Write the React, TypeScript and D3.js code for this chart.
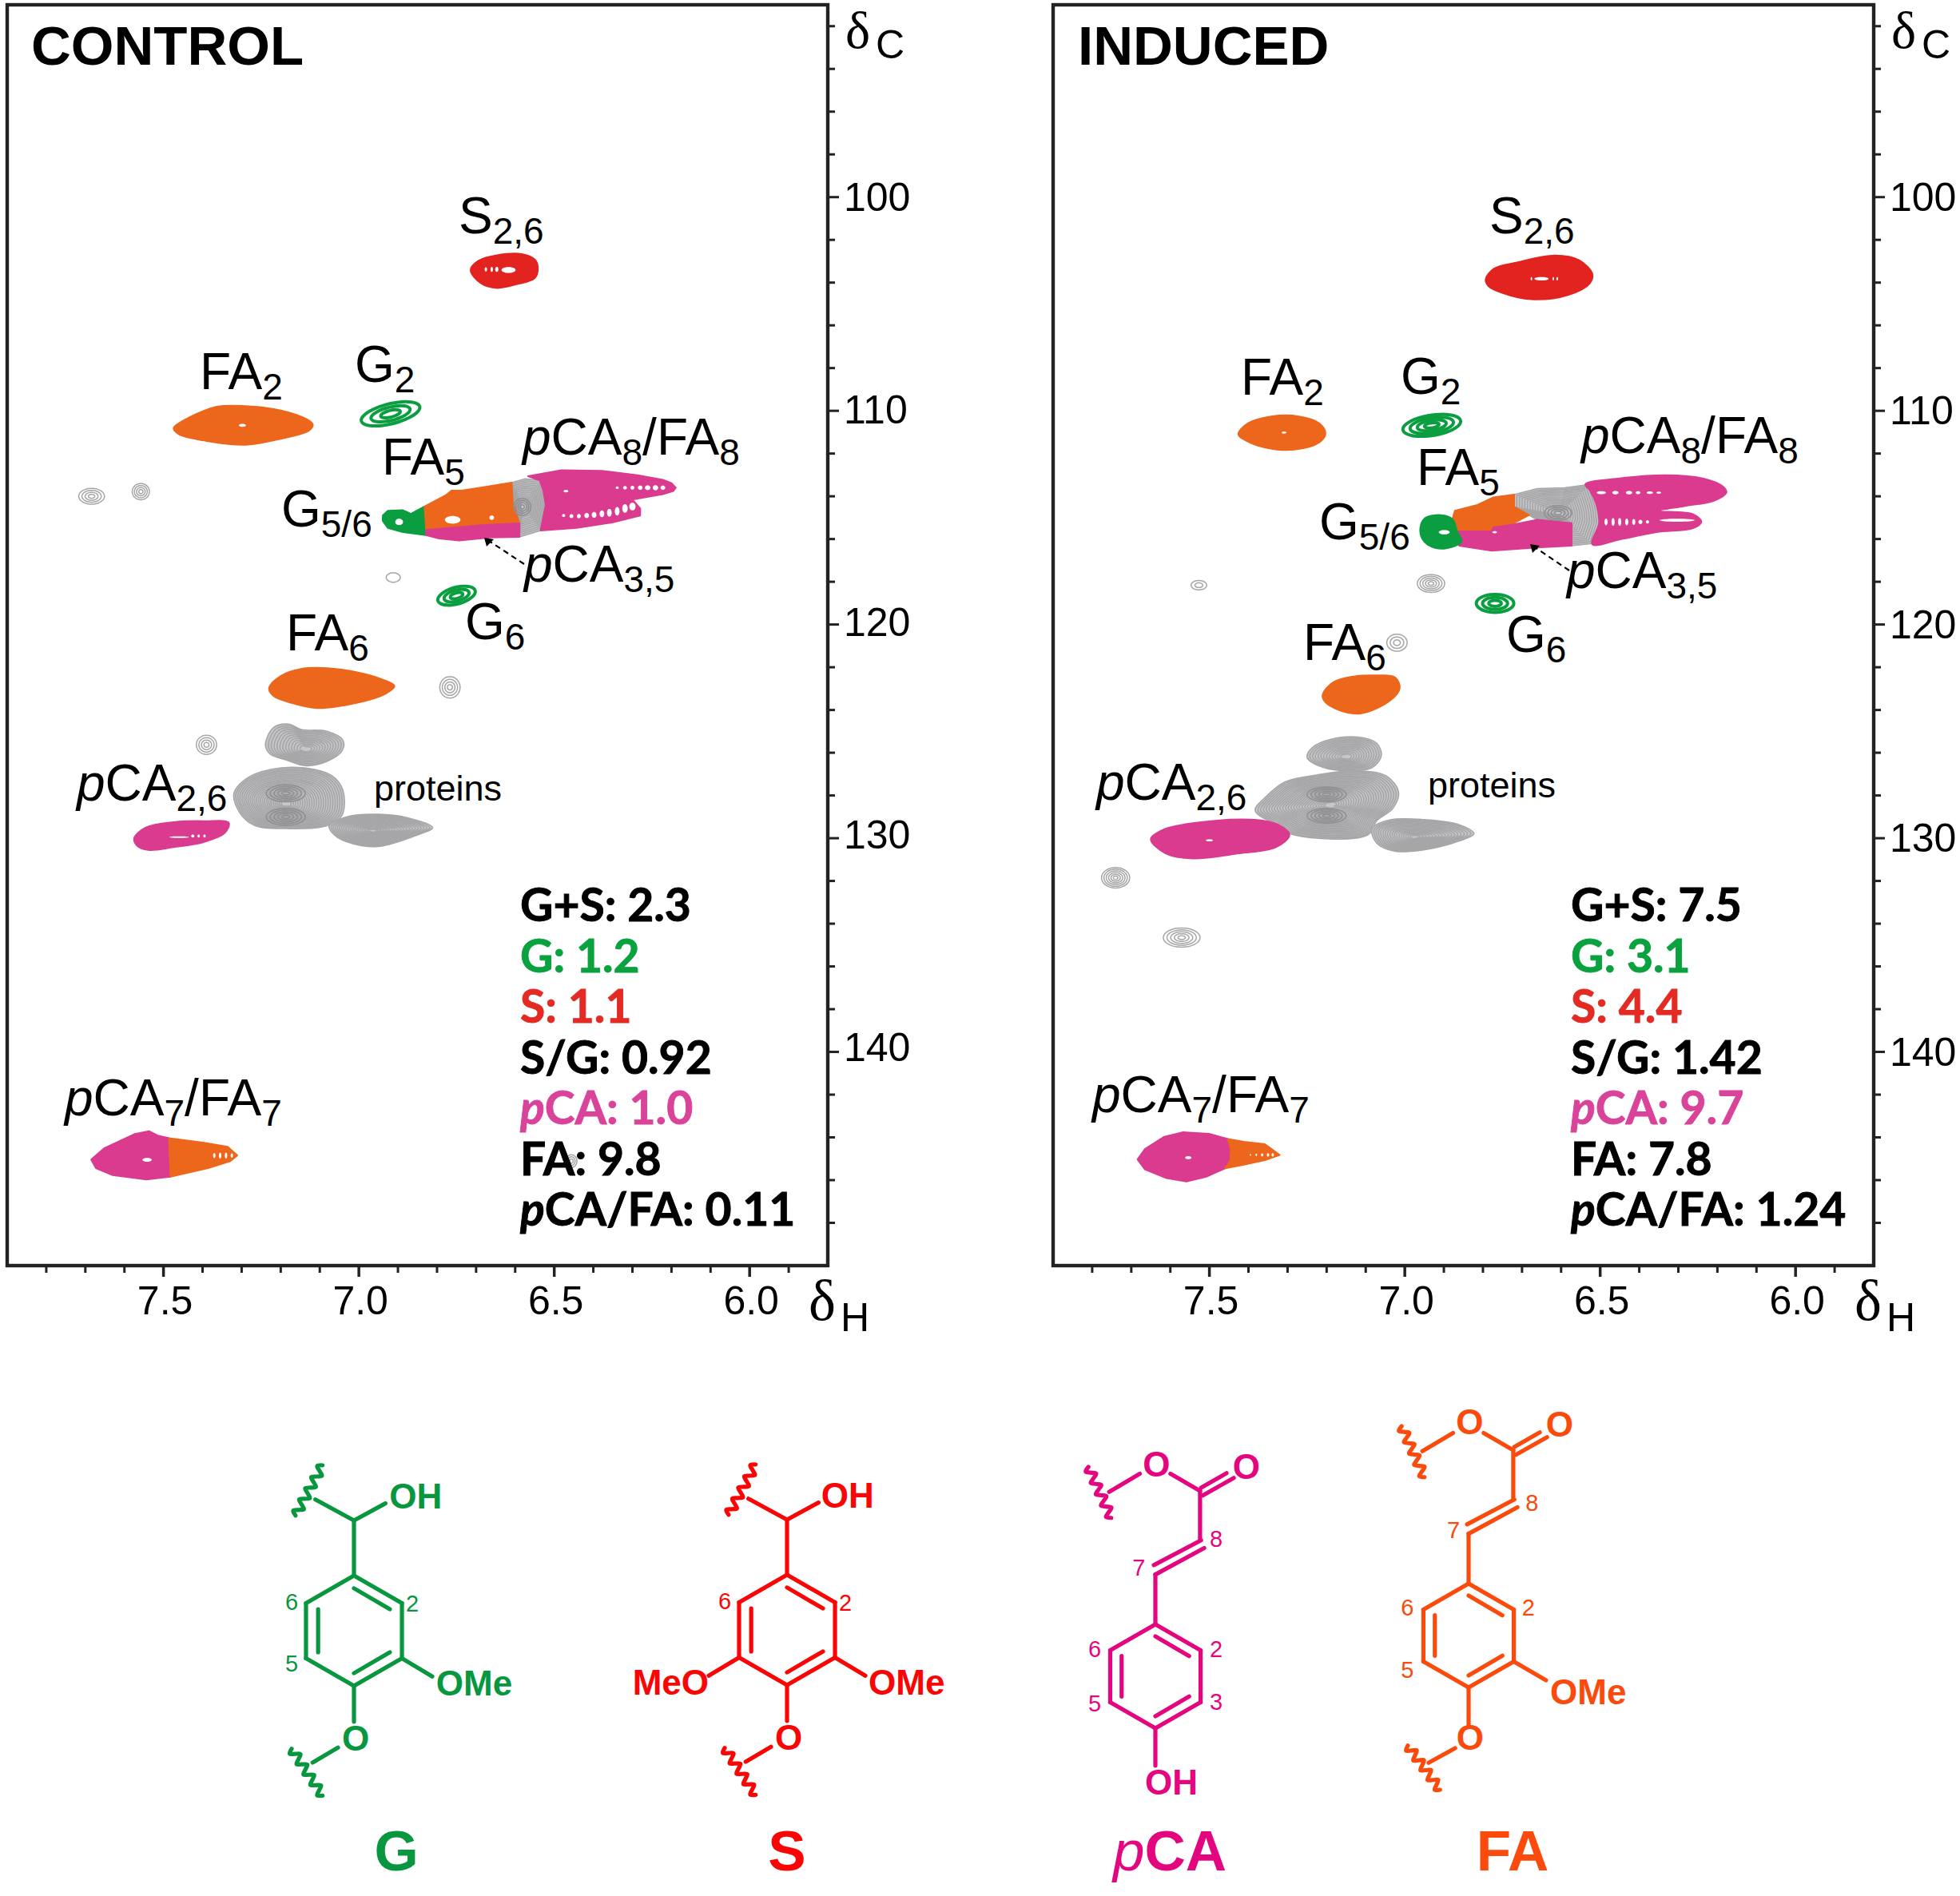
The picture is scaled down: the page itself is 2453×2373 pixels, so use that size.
import React from 'react';
import * as d3 from 'd3';

type Pt = [number, number];
type Hole = [number, number, number, number];
type Blob = { kind: string; outline: Pt[]; sharp?: boolean; levels?: number; center?: Pt; inner?: number; holes?: Hole[] };
type Spot = { kind: string; h: number; c: number; rh: number; rc: number; levels: number; tilt?: number };

// ---------- axes ----------
const xDomain: Pt = [7.9, 5.8];
const yDomain: Pt = [91, 150];
const xMajor = [7.5, 7.0, 6.5, 6.0];
const xMinor = [7.8, 7.7, 7.6, 7.4, 7.3, 7.2, 7.1, 6.9, 6.8, 6.7, 6.6, 6.4, 6.3, 6.2, 6.1, 5.9];
const yMajor = [100, 110, 120, 130, 140];
const yMinor = [92, 94, 96, 98, 102, 104, 106, 108, 112, 114, 116, 118, 122, 124, 126, 128, 132, 134, 136, 138, 142, 144, 146, 148];

// ---------- CONTROL peaks (dH, dC) ----------
const controlS26: Blob = { kind: 'S', outline: [[6.714,103.41],[6.694,102.98],[6.649,102.73],[6.581,102.67],[6.55,102.92],[6.542,103.29],[6.55,103.79],[6.595,104.07],[6.646,104.25],[6.687,104.04]],
  holes: [[6.617,103.41,0.018,0.14],[6.647,103.38,0.004,0.12],[6.66,103.38,0.003,0.12],[6.675,103.38,0.003,0.1]] };
const controlFA2: Blob = { kind: 'FA', outline: [[7.474,110.81],[7.434,110.31],[7.363,109.81],[7.291,109.78],[7.2,109.98],[7.134,110.39],[7.118,110.64],[7.128,110.93],[7.2,111.31],[7.291,111.59],[7.382,111.43],[7.461,111.09]], holes: [[7.298,110.68,0.009,0.07]] };
const controlFA6: Blob = { kind: 'FA', outline: [[7.23,122.99],[7.2,122.41],[7.148,122.08],[7.082,122.04],[7.004,122.24],[6.939,122.58],[6.909,122.88],[6.932,123.24],[7.004,123.66],[7.108,123.91],[7.174,123.66],[7.219,123.33]] };
const controlGreen56: Blob = { kind: 'G', sharp: true, outline: [[6.939,114.9],[6.926,114.68],[6.887,114.65],[6.867,114.82],[6.832,114.48],[6.828,115.82],[6.887,115.68],[6.926,115.48],[6.939,115.15]], holes: [[6.897,115.2,0.01,0.15]] };
const controlFA5: Blob = { kind: 'FA', sharp: true, outline: [[6.832,114.48],[6.776,113.93],[6.763,113.73],[6.737,113.73],[6.678,113.56],[6.609,113.36],[6.606,114.31],[6.589,115.27],[6.685,115.35],[6.828,115.57]], holes: [[6.76,115.1,0.02,0.18],[6.66,115.0,0.006,0.1]] };
const controlPCA35: Blob = { kind: 'pCA', sharp: true, outline: [[6.828,115.57],[6.685,115.35],[6.589,115.27],[6.589,115.9],[6.665,115.93],[6.743,116.07],[6.795,115.98],[6.828,115.82]] };
const controlGray8: Blob = { kind: 'gray', sharp: true, levels: 13, center: [6.58,114.45], inner: 0.1, outline: [[6.609,113.36],[6.574,113.18],[6.537,113.26],[6.528,113.73],[6.522,114.4],[6.535,115.6],[6.589,115.9],[6.589,115.27],[6.606,114.82],[6.619,114.48],[6.609,114.06]] };
const controlPCA8: Blob = { kind: 'pCA', sharp: true, outline: [[6.567,113.06],[6.482,112.78],[6.378,112.81],[6.287,113.01],[6.222,113.23],[6.2,113.38],[6.189,113.6],[6.195,113.75],[6.222,113.9],[6.3,114.15],[6.28,114.57],[6.28,114.9],[6.352,115.23],[6.443,115.48],[6.535,115.6],[6.522,114.4],[6.528,113.73],[6.537,113.26]],
  holes: [[6.47,113.76,0.006,0.06],[6.339,113.6,0.004,0.06],[6.319,113.6,0.005,0.08],[6.3,113.6,0.005,0.09],[6.28,113.6,0.006,0.1],[6.261,113.6,0.007,0.11],[6.241,113.6,0.007,0.12],[6.222,113.6,0.006,0.1],
    [6.476,114.9,0.004,0.07],[6.456,114.93,0.005,0.09],[6.437,114.93,0.005,0.1],[6.417,114.9,0.006,0.12],[6.398,114.87,0.006,0.14],[6.378,114.82,0.006,0.16],[6.359,114.77,0.006,0.18],[6.339,114.7,0.006,0.2],[6.319,114.57,0.007,0.2],[6.3,114.48,0.008,0.18]] };
const controlProteinUpper: Blob = { kind: 'gray', levels: 13, center: [7.135,125.85], inner: 0.08, outline: [[7.239,125.66],[7.219,124.83],[7.18,124.66],[7.148,124.91],[7.082,125.0],[7.041,125.41],[7.043,125.91],[7.082,126.41],[7.135,126.61],[7.187,126.33],[7.226,126.08]] };
const controlProteinMid: Blob = { kind: 'gray', levels: 24, center: [7.187,128.4], inner: 0.05, outline: [[7.32,127.92],[7.291,127.25],[7.226,126.78],[7.135,126.72],[7.069,127.08],[7.041,127.75],[7.043,128.92],[7.082,129.42],[7.187,129.55],[7.265,129.42],[7.304,128.83]] };
const controlProteinLow: Blob = { kind: 'gray', levels: 20, center: [6.965,129.65], inner: 0.04, outline: [[7.076,129.42],[7.03,129.0],[6.952,128.88],[6.874,129.05],[6.811,129.5],[6.861,129.92],[6.952,130.39],[7.017,130.25],[7.063,129.84]] };
const controlPCA26: Blob = { kind: 'pCA', outline: [[7.575,130.0],[7.545,129.5],[7.474,129.25],[7.395,129.2],[7.333,129.28],[7.343,129.75],[7.395,130.17],[7.474,130.42],[7.539,130.55],[7.568,130.34]], holes: [[7.46,129.95,0.025,0.04],[7.425,129.9,0.004,0.07],[7.41,129.9,0.003,0.07],[7.395,129.9,0.003,0.07]] };
const controlPCA7: Blob = { kind: 'pCA', outline: [[7.685,145.04],[7.652,144.51],[7.573,143.84],[7.537,143.71],[7.515,143.91],[7.486,144.04],[7.482,145.84],[7.544,145.97],[7.63,145.77],[7.673,145.44]], sharp: true, holes: [[7.542,145.05,0.012,0.09]] };
const controlFA7: Blob = { kind: 'FA', outline: [[7.486,144.04],[7.4,144.24],[7.336,144.44],[7.311,144.84],[7.329,145.11],[7.386,145.44],[7.482,145.84]], sharp: true, holes: [[7.37,144.85,0.003,0.12],[7.355,144.85,0.003,0.14],[7.34,144.85,0.003,0.14],[7.325,144.85,0.003,0.1]] };
const controlBlobs = [controlGray8, controlProteinUpper, controlProteinMid, controlProteinLow, controlS26, controlFA2, controlFA6, controlGreen56, controlFA5, controlPCA35, controlPCA8, controlPCA26, controlPCA7, controlFA7];
const controlSpots: Spot[] = [
  { kind: 'G', h: 6.919, c: 110.14, rh: 0.075, rc: 0.48, levels: 3, tilt: 4 },
  { kind: 'G', h: 6.75, c: 118.65, rh: 0.048, rc: 0.4, levels: 3, tilt: 4 },
  { kind: 'gray', h: 6.912, c: 117.8, rh: 0.018, rc: 0.22, levels: 1 },
  { kind: 'gray', h: 6.767, c: 122.94, rh: 0.026, rc: 0.5, levels: 4 },
  { kind: 'gray', h: 7.39, c: 125.63, rh: 0.026, rc: 0.45, levels: 4 },
  { kind: 'gray', h: 7.684, c: 114.0, rh: 0.033, rc: 0.37, levels: 4 },
  { kind: 'gray', h: 7.558, c: 113.78, rh: 0.022, rc: 0.38, levels: 4 },
  { kind: 'gray', h: 6.456, c: 145.11, rh: 0.014, rc: 0.3, levels: 3 },
  { kind: 'bull', h: 7.187, c: 127.9, rh: 0.05, rc: 0.4, levels: 5 },
  { kind: 'bull', h: 7.187, c: 129.0, rh: 0.05, rc: 0.4, levels: 5 },
  { kind: 'bull', h: 6.582, c: 114.5, rh: 0.022, rc: 0.4, levels: 4 },
];

// ---------- INDUCED peaks (dH, dC) ----------
const inducedS26: Blob = { kind: 'S', outline: [[6.793,103.85],[6.772,103.35],[6.718,103.08],[6.615,102.73],[6.554,102.95],[6.52,103.6],[6.527,104.04],[6.581,104.57],[6.677,104.78],[6.752,104.47],[6.786,104.16]], holes: [[6.65,103.82,0.018,0.08],[6.676,103.82,0.002,0.08],[6.62,103.82,0.002,0.08],[6.61,103.82,0.002,0.08]] };
const inducedFA2: Blob = { kind: 'FA', outline: [[7.426,111.1],[7.401,110.58],[7.342,110.26],[7.271,110.26],[7.219,110.58],[7.203,111.06],[7.219,111.48],[7.283,111.82],[7.354,111.73],[7.406,111.4]], holes: [[7.309,111.02,0.006,0.05]] };
const inducedFA6: Blob = { kind: 'FA', outline: [[7.21,123.27],[7.183,122.7],[7.131,122.43],[7.07,122.38],[7.025,122.47],[7.013,122.98],[7.037,123.55],[7.113,124.16],[7.178,123.93],[7.207,123.55]] };
const inducedGreen56: Blob = { kind: 'G', outline: [[6.96,115.45],[6.949,115.03],[6.908,114.88],[6.878,115.07],[6.866,115.64],[6.855,116.11],[6.896,116.44],[6.937,116.31],[6.957,115.92]], holes: [[6.899,115.68,0.014,0.1]] };
const inducedFA5: Blob = { kind: 'FA', sharp: true, outline: [[6.878,115.07],[6.872,114.68],[6.814,114.4],[6.773,114.05],[6.72,113.92],[6.72,114.49],[6.682,114.88],[6.731,115.35],[6.778,115.64],[6.866,115.64]] };
const inducedPCA35: Blob = { kind: 'pCA', sharp: true, outline: [[6.866,115.64],[6.778,115.64],[6.773,115.45],[6.731,115.35],[6.661,115.1],[6.573,115.26],[6.573,116.31],[6.661,116.4],[6.778,116.55],[6.861,116.31]], holes: [[6.77,115.68,0.006,0.05]] };
const inducedGray8: Blob = { kind: 'gray', sharp: true, levels: 16, center: [6.605,114.85], inner: 0.06, outline: [[6.72,113.92],[6.661,113.64],[6.591,113.6],[6.526,113.44],[6.508,114.49],[6.503,115.26],[6.52,116.21],[6.573,116.31],[6.573,115.26],[6.661,115.1],[6.682,114.88],[6.72,114.49]] };
const inducedPCA8: Blob = { kind: 'pCA', outline: [[6.538,113.44],[6.45,113.16],[6.332,113.01],[6.238,113.16],[6.186,113.54],[6.177,113.83],[6.209,114.21],[6.285,114.46],[6.35,114.68],[6.262,114.84],[6.241,115.2],[6.262,115.49],[6.356,115.68],[6.45,116.02],[6.52,116.25],[6.503,115.26],[6.508,114.49],[6.526,113.73]],
  holes: [[6.497,113.83,0.012,0.07],[6.461,113.83,0.008,0.08],[6.426,113.83,0.008,0.08],[6.403,113.83,0.006,0.07],[6.373,113.83,0.008,0.06],[6.35,113.83,0.006,0.05],
    [6.485,115.2,0.004,0.16],[6.467,115.2,0.004,0.18],[6.45,115.2,0.004,0.18],[6.432,115.2,0.004,0.16],[6.414,115.2,0.004,0.14],[6.397,115.2,0.005,0.1],[6.379,115.2,0.004,0.08],[6.303,115.12,0.045,0.07]] };
const inducedProteinTop: Blob = { kind: 'gray', levels: 13, center: [7.15,126.2], inner: 0.08, outline: [[7.25,126.22],[7.236,125.75],[7.189,125.37],[7.119,125.27],[7.072,125.56],[7.06,126.13],[7.084,126.7],[7.142,126.85],[7.213,126.66]] };
const inducedProteinMid: Blob = { kind: 'gray', levels: 26, center: [7.19,128.45], inner: 0.05, outline: [[7.383,128.7],[7.354,128.04],[7.307,127.37],[7.225,127.04],[7.131,126.85],[7.048,127.08],[7.016,127.84],[7.031,128.61],[7.072,129.18],[7.095,129.85],[7.283,129.85],[7.33,129.37]] };
const inducedProteinLow: Blob = { kind: 'gray', levels: 18, center: [6.975,129.95], inner: 0.04, outline: [[7.084,129.56],[7.037,129.14],[6.943,129.14],[6.861,129.37],[6.823,129.79],[6.861,130.13],[6.943,130.52],[7.025,130.61],[7.072,130.23]] };
const inducedPCA26: Blob = { kind: 'pCA', outline: [[7.65,130.04],[7.618,129.6],[7.53,129.27],[7.383,129.14],[7.324,129.37],[7.295,129.85],[7.33,130.42],[7.424,130.71],[7.542,130.95],[7.612,130.71]], holes: [[7.5,130.1,0.009,0.05]] };
const inducedPCA7: Blob = { kind: 'pCA', sharp: true, outline: [[7.684,145.03],[7.665,144.54],[7.617,143.98],[7.569,143.76],[7.501,143.83],[7.453,144.07],[7.445,144.6],[7.447,145.1],[7.46,145.45],[7.508,145.84],[7.559,146.07],[7.61,145.91],[7.665,145.5]], holes: [[7.554,144.95,0.008,0.07]] };
const inducedFA7: Blob = { kind: 'FA', sharp: true, outline: [[7.453,144.07],[7.412,144.2],[7.358,144.32],[7.32,144.82],[7.358,145.07],[7.412,145.28],[7.46,145.45],[7.447,145.1],[7.445,144.6]], holes: [[7.395,144.82,0.002,0.04],[7.38,144.82,0.002,0.06],[7.365,144.82,0.003,0.07],[7.35,144.82,0.003,0.08],[7.338,144.82,0.003,0.08]] };
const inducedBlobs = [inducedGray8, inducedProteinTop, inducedProteinMid, inducedProteinLow, inducedS26, inducedFA2, inducedFA6, inducedFA5, inducedPCA35, inducedGreen56, inducedPCA8, inducedPCA26, inducedPCA7, inducedFA7];
const inducedSpots: Spot[] = [
  { kind: 'G', h: 6.931, c: 110.68, rh: 0.074, rc: 0.48, levels: 4, tilt: 2.5 },
  { kind: 'G', h: 6.769, c: 119.01, rh: 0.048, rc: 0.42, levels: 3 },
  { kind: 'gray', h: 6.933, c: 118.08, rh: 0.035, rc: 0.42, levels: 5 },
  { kind: 'gray', h: 7.527, c: 118.16, rh: 0.02, rc: 0.22, levels: 2 },
  { kind: 'gray', h: 7.02, c: 120.85, rh: 0.026, rc: 0.4, levels: 3 },
  { kind: 'gray', h: 7.74, c: 131.85, rh: 0.036, rc: 0.48, levels: 6 },
  { kind: 'gray', h: 7.571, c: 134.65, rh: 0.047, rc: 0.45, levels: 5 },
  { kind: 'bull', h: 7.2, c: 127.95, rh: 0.05, rc: 0.35, levels: 5 },
  { kind: 'bull', h: 7.2, c: 128.95, rh: 0.05, rc: 0.35, levels: 5 },
  { kind: 'bull', h: 6.608, c: 114.78, rh: 0.035, rc: 0.35, levels: 4 },
];

// ---------- text ----------
const panelTitles = ['CONTROL', 'INDUCED'];
const statNames = ['G+S', 'G', 'S', 'S/G', 'pCA', 'FA', 'pCA/FA'];
const statKinds = ['', 'G', 'S', '', 'pCA', '', ''];
const controlStats = ['2.3', '1.2', '1.1', '0.92', '1.0', '9.8', '0.11'];
const inducedStats = ['7.5', '3.1', '4.4', '1.42', '9.7', '7.8', '1.24'];
// label text: *x* italic, _x_ subscript
const labelTexts = ['S_2,6_', 'FA_2_', 'G_2_', 'FA_5_', '*p*CA_8_/FA_8_', 'G_5/6_', '*p*CA_3,5_', 'G_6_', 'FA_6_', '*p*CA_2,6_', '*p*CA_7_/FA_7_'];

// ---------- layout (pixels) ----------
const W = 2453, H = 2373;
const panels = [
  { left: 9, right: 1036, drift: 0.15, blobs: controlBlobs, spots: controlSpots, stats: controlStats, titleX: 39, statX: 651,
    labels: [[574, 292], [250, 487], [444, 478], [478, 594], [654, 569], [352, 659], [656, 728], [582, 800], [358, 814], [96, 1002], [81, 1396]],
    proteins: [468, 1002], arrow: [656, 706, 606, 673] },
  { left: 1318, right: 2345, drift: 0, blobs: inducedBlobs, spots: inducedSpots, stats: inducedStats, titleX: 1349, statX: 1966,
    labels: [[1864, 292], [1553, 494], [1753, 493], [1773, 607], [1979, 567], [1651, 675], [1961, 736], [1885, 816], [1631, 826], [1372, 1001], [1367, 1392]],
    proteins: [1787, 998], arrow: [1964, 714, 1915, 681] },
];
const top = 6, bottom = 1584;

const peakColor: Record<string, string> = { G: '#0b9e41', S: '#e3231f', FA: '#ec671c', pCA: '#da3b8f', gray: '#a6a6a8', bull: '#8f8f92' };
const statColor: Record<string, string> = { '': '#000', G: '#0aa23f', S: '#e32a23', pCA: '#d9439a' };
const ARIAL = '"Liberation Sans", Arial, sans-serif';

function RichText({ s, x, y, size, sub, fill = '#000' }: { s: string; x: number; y: number; size: number; sub: number; fill?: string }) {
  const parts = s.split(/(\*[^*]*\*|_[^_]*_)/).filter(Boolean);
  let pending = 0;
  return (
    <text x={x} y={y} fontFamily={ARIAL} fontSize={size} fill={fill} style={{ whiteSpace: 'pre' }}>
      {parts.map((p, i) => {
        const isSub = p[0] === '_', isIt = p[0] === '*';
        const t = isSub || isIt ? p.slice(1, -1) : p;
        const dy = (isSub ? 13 : 0) + pending;
        pending = isSub ? -13 : 0;
        return <tspan key={i} dy={dy} fontSize={isSub ? sub : size} fontStyle={isIt ? 'italic' : 'normal'}>{t}</tspan>;
      })}
    </text>
  );
}

function Panel({ p, index }: { p: (typeof panels)[number]; index: number }) {
  const x = d3.scaleLinear().domain(xDomain).range([p.left, p.right]);
  const y = d3.scaleLinear().domain(yDomain).range([top, bottom]);
  const smooth = d3.line<Pt>().x(d => x(d[0])).y(d => y(d[1])).curve(d3.curveCatmullRomClosed.alpha(0.5));
  const sharp = d3.line<Pt>().x(d => x(d[0])).y(d => y(d[1])).curve(d3.curveLinearClosed);
  const ellipse = (h: number, c: number, rh: number, rc: number, tilt = 0) => {
    const pts = d3.range(0, 24).map(i => {
      const t = (i / 24) * 2 * Math.PI;
      const dh = rh * Math.cos(t);
      return [h + dh, c + rc * Math.sin(t) + tilt * dh] as Pt;
    });
    return smooth(pts) as string;
  };
  return (
    <g>
      {p.blobs.map((b, i) => {
        const gen = b.sharp ? sharp : smooth;
        if (b.kind === 'gray') {
          const cn = b.center!;
          const n = b.levels!;
          const low = b.inner ?? 0.1;
          const paths = d3.range(n).map(k => {
            const f = 1 - (k / n) * (1 - low);
            return gen(b.outline.map(q => [cn[0] + (q[0] - cn[0]) * f, cn[1] + (q[1] - cn[1]) * f] as Pt)) as string;
          });
          return (
            <g key={i} fill="none" stroke={peakColor.gray} strokeWidth={1.6} strokeLinejoin="round">
              <path d={paths[0]} fill="#c6c6c8" stroke="none" />
              {paths.map((d, k) => <path key={k} d={d} />)}
            </g>
          );
        }
        return (
          <g key={i}>
            <path d={gen(b.outline) as string} fill={peakColor[b.kind]} stroke={peakColor[b.kind]} strokeWidth={2} strokeLinejoin="round" />
            {(b.holes || []).map((o, k) => <path key={k} d={ellipse(o[0], o[1], o[2], o[3])} fill="#fff" />)}
          </g>
        );
      })}
      {p.spots.map((s, i) => (
        <g key={i} fill="none" stroke={peakColor[s.kind]} strokeWidth={s.kind === 'G' ? 4 : 1.5}>
          {d3.range(s.levels).map(k => {
            const f = 1 - k / s.levels;
            return <path key={k} d={ellipse(s.h, s.c, s.rh * f, s.rc * f, s.tilt || 0)} />;
          })}
        </g>
      ))}
      <rect x={p.left} y={top} width={p.right - p.left} height={bottom - top} fill="none" stroke="#222" strokeWidth={4.4} />
      {xMajor.map(v => <line key={v} x1={x(v)} x2={x(v)} y1={bottom} y2={bottom + 14} stroke="#222" strokeWidth={3.5} />)}
      {xMinor.map(v => <line key={v} x1={x(v)} x2={x(v)} y1={bottom} y2={bottom + 9} stroke="#222" strokeWidth={3} />)}
      {yMajor.map(v => <line key={v} x1={p.right} x2={p.right + 14} y1={y(v)} y2={y(v)} stroke="#222" strokeWidth={3} />)}
      {yMinor.map(v => <line key={v} x1={p.right} x2={p.right + 9} y1={y(v)} y2={y(v)} stroke="#222" strokeWidth={3} />)}
      <g fontFamily={ARIAL} fontSize={50} fill="#000">
        {xMajor.map(v => <text key={v} x={x(v) + 2} y={1645} textAnchor="middle">{v.toFixed(1)}</text>)}
        {yMajor.map(v => <text key={v} x={p.right + 20} y={y(v) + 17 - (v - 100) * p.drift}>{v}</text>)}
      </g>
      <text x={p.right + 22} y={60} fontFamily='"Liberation Serif", serif' fontSize={66}>δ</text>
      <text x={p.right + 60} y={73} fontFamily={ARIAL} fontSize={50}>C</text>
      <text x={p.right - 24} y={1652} fontFamily='"Liberation Serif", serif' fontSize={72}>δ</text>
      <text x={p.right + 16} y={1666} fontFamily={ARIAL} fontSize={50}>H</text>
      <text x={p.titleX} y={81} fontFamily={ARIAL} fontWeight={700} fontSize={69}>{panelTitles[index]}</text>
      {labelTexts.map((s, i) => <RichText key={i} s={s} x={p.labels[i][0]} y={p.labels[i][1]} size={64} sub={46} />)}
      <text x={p.proteins[0]} y={p.proteins[1]} fontFamily={ARIAL} fontSize={45}>proteins</text>
      <line x1={p.arrow[0]} y1={p.arrow[1]} x2={p.arrow[2] + 6} y2={p.arrow[3] + 4} stroke="#000" strokeWidth={2.2} strokeDasharray="7 5" />
      <path d={d3.line()([[p.arrow[2], p.arrow[3]], [p.arrow[2] + 12, p.arrow[3] + 2], [p.arrow[2] + 3, p.arrow[3] + 11]]) + 'Z'} fill="#000" />
      {statNames.map((n, i) => {
        const pIt = n[0] === 'p';
        const col = statColor[statKinds[i]];
        return (
          <text key={n} x={p.statX} y={1153 + i * 63.5} fontFamily="Lato, sans-serif" fontWeight={700} fontSize={57} fill={col} stroke={col} strokeWidth={0.9}>
            {pIt ? <tspan fontStyle="italic">p</tspan> : null}
            {(pIt ? n.slice(1) : n) + ': ' + p.stats[i]}
          </text>
        );
      })}
    </g>
  );
}

// ---------- chemical structures, in bond-length units from the ring centre ----------
type Seg = [number, number, number, number];
const ringBonds: Seg[] = [[0,-1,0.87,-0.5],[0.87,-0.5,0.87,0.5],[0.87,0.5,0,1],[0,1,-0.87,0.5],[-0.87,0.5,-0.87,-0.5],[-0.87,-0.5,0,-1]];
const ringInner: Seg[] = [[0,-0.77,0.65,-0.39],[-0.65,-0.39,-0.65,0.39]];
const ringInnerLow: Seg[] = [[0,0.77,0.65,0.39]];
const alphaBonds: Seg[] = [[0,-1,0,-2],[0,-2,0.57,-2.31],[0,-2,-0.7,-2.38]];
const etherBonds: Seg[] = [[0,1,0,1.65],[-0.29,2.12,-0.75,2.39]];
const chainBonds: Seg[] = [[0,-1,0,-1.96],[0,-1.96,0.94,-2.47],[-0.03,-2.14,0.88,-2.62],[0.86,-2.62,0.86,-3.57],[0.88,-3.63,1.37,-3.91],[0.91,-3.48,1.51,-3.82],[0.86,-3.57,0.29,-3.9],[-0.3,-3.9,-0.89,-3.55]];

const molecules = [
  { name: 'G', kind: 'G', color: '#08963f', cx: 443, cy: 2041, unit: 69, nameX: 496,
    bonds: [...ringBonds, ...ringInner, ...ringInnerLow, ...alphaBonds, ...etherBonds, [0.87,0.5,1.42,0.83] as Seg],
    waves: [[-0.57,-3,-1.06,-2.09],[-1.13,2.14,-0.57,2.99]] as Seg[],
    atoms: [['OH',0.64,-2.22,'start'],['OMe',1.49,1.17,'start'],['O',0.03,2.17,'middle']],
    nums: [['2',1.06,-0.5],['5',-1.13,0.6],['6',-1.13,-0.52]] },
  { name: 'S', kind: 'S', color: '#fa0505', cx: 985, cy: 2040, unit: 69, nameX: 985,
    bonds: [...ringBonds, ...ringInner, ...ringInnerLow, ...alphaBonds, ...etherBonds, [0.87,0.5,1.42,0.83] as Seg, [-0.87,0.5,-1.42,0.83] as Seg],
    waves: [[-0.57,-3,-1.06,-2.09],[-1.13,2.14,-0.57,2.99]] as Seg[],
    atoms: [['OH',0.62,-2.22,'start'],['OMe',1.48,1.17,'start'],['MeO',-1.42,1.17,'end'],['O',0.03,2.17,'middle']],
    nums: [['2',1.06,-0.5],['6',-1.13,-0.52]] },
  { name: 'pCA', kind: 'pCA', color: '#e3067f', cx: 1446, cy: 2098, unit: 65, nameX: 1464,
    bonds: [...ringBonds, ...ringInner, ...ringInnerLow, ...chainBonds, [0,1,0,1.72] as Seg],
    waves: [[-1.29,-4.03,-0.85,-3.05]] as Seg[],
    atoms: [['OH',-0.2,2.28,'start'],['O',0.02,-3.85,'middle'],['O',1.75,-3.8,'middle']],
    nums: [['2',1.17,-0.52],['3',1.17,0.49],['5',-1.17,0.52],['6',-1.17,-0.53],['7',-0.32,-2.09],['8',1.17,-2.65]] },
  { name: 'FA', kind: 'FA', color: '#fa4a0c', cx: 1838, cy: 2047, unit: 65, nameX: 1893,
    bonds: [...ringBonds, ...ringInner, ...ringInnerLow, ...chainBonds, [0.87,0.5,1.49,0.86] as Seg, [0,1,0,1.74] as Seg, [-0.26,2.17,-0.77,2.45] as Seg],
    waves: [[-1.29,-4.03,-0.85,-3.05],[-1.17,2.12,-0.55,2.97]] as Seg[],
    atoms: [['OMe',1.57,1.33,'start'],['O',0.03,2.2,'middle'],['O',0.02,-3.88,'middle'],['O',1.75,-3.83,'middle']],
    nums: [['2',1.15,-0.54],['5',-1.18,0.66],['6',-1.18,-0.54],['7',-0.29,-2.03],['8',1.22,-2.55]] },
];

function Molecule({ m }: { m: (typeof molecules)[number] }) {
  const sx = d3.scaleLinear().domain([0, 1]).range([m.cx, m.cx + m.unit]);
  const sy = d3.scaleLinear().domain([0, 1]).range([m.cy, m.cy + m.unit]);
  const wave = d3.line<Pt>().curve(d3.curveCatmullRom);
  const wavePath = (w: Seg) => {
    const [ax, ay, bx, by] = [sx(w[0]), sy(w[1]), sx(w[2]), sy(w[3])];
    const len = Math.hypot(bx - ax, by - ay);
    const nx = -(by - ay) / len, ny = (bx - ax) / len;
    const n = 18;
    return wave(d3.range(n + 1).map(i => {
      const a = (i % 4 === 1 ? 1 : i % 4 === 3 ? -1 : 0) * 5.5;
      return [ax + (bx - ax) * i / n + nx * a, ay + (by - ay) * i / n + ny * a] as Pt;
    })) as string;
  };
  return (
    <g>
      <g stroke={m.color} strokeWidth={5.2} fill="none">
        {m.bonds.map((b, i) => <line key={i} x1={sx(b[0])} y1={sy(b[1])} x2={sx(b[2])} y2={sy(b[3])} strokeLinecap="round" />)}
        {m.waves.map((w, i) => <path key={i} d={wavePath(w)} strokeLinecap="round" />)}
      </g>
      <g fontFamily={ARIAL} fontWeight={700} fontSize={44} fill={m.color}>
        {m.atoms.map((a, i) => <text key={i} x={sx(a[1] as number)} y={sy(a[2] as number)} textAnchor={a[3] as any}>{a[0]}</text>)}
      </g>
      <g fontFamily={ARIAL} fontSize={29} fill={m.color} textAnchor="middle">
        {m.nums.map((a, i) => <text key={i} x={sx(a[1] as number)} y={sy(a[2] as number) + 10}>{a[0]}</text>)}
      </g>
      <text x={m.nameX} y={2341} fontFamily={ARIAL} fontWeight={700} fontSize={71} fill={m.color} textAnchor="middle">
        {m.name === 'pCA' ? <tspan fontWeight={400} fontStyle="italic">p</tspan> : null}
        {m.name === 'pCA' ? 'CA' : m.name}
      </text>
    </g>
  );
}

export default function App() {
  return (
    <svg width={W} height={H} viewBox={`0 0 ${W} ${H}`} style={{ position: 'absolute', left: 0, top: 0, display: 'block', background: '#fff' }}>
      {panels.map((p, i) => <Panel key={i} p={p} index={i} />)}
      {molecules.map(m => <Molecule key={m.name} m={m} />)}
    </svg>
  );
}
